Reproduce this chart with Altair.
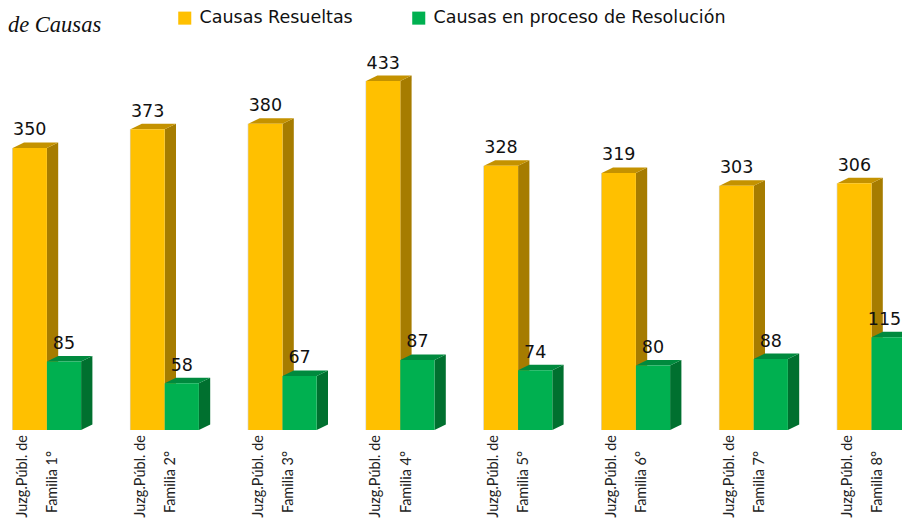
import altair as alt
import pandas as pd

groups = ["1°", "2°", "3°", "4°", "5°", "6°", "7°", "8°"]
resueltas = [350, 373, 380, 433, 328, 319, 303, 306]
en_proceso = [85, 58, 67, 87, 74, 80, 88, 115]
series_names = ["Causas Resueltas", "Causas en proceso de Resolución"]
front_colors = ["#FFC000", "#00B050"]
side_colors = ["#A67C00", "#00702F"]
top_colors = ["#C49200", "#008A3E"]
label_line1 = "Juzg.Públ. de"
label_line2 = "Familia "

W, H = 894, 512
PX_GROUP = 117.8
PX_Y = 0.806
BASE_Y = 422
X0 = 4.7
BAR = 34.2 / PX_GROUP
DX = 11.3 / PX_GROUP
DY = 5.5 / PX_Y
LABEL_MAX = (W - X0 - 17.5) / PX_GROUP

x_scale = alt.Scale(domain=[-X0 / PX_GROUP, (W - X0) / PX_GROUP], nice=False, zero=False)
y_scale = alt.Scale(domain=[-(H - BASE_Y) / PX_Y, BASE_Y / PX_Y], nice=False, zero=False)

front, side, top = [], [], []
for i, g in enumerate(groups):
    for s, vals in enumerate([resueltas, en_proceso]):
        v = vals[i]
        xl = i + s * BAR
        xr = xl + BAR
        key = f"{i}-{s}"
        front.append(dict(xl=xl, xr=xr, xc=min((xl + xr) / 2, LABEL_MAX), v=v, zero=0, name=series_names[s]))
        side.append(dict(key=key, x=xr, lo=0, hi=v, c=side_colors[s]))
        side.append(dict(key=key, x=xr + DX, lo=DY, hi=v + DY, c=side_colors[s]))
        top.append(dict(key=key, y=v, a=xl, b=xr, c=top_colors[s]))
        top.append(dict(key=key, y=v + DY, a=xl + DX, b=xr + DX, c=top_colors[s]))
cats = pd.DataFrame([dict(x1=i + 10.3 / PX_GROUP, x2=i + 40.5 / PX_GROUP,
                          l1=label_line1, l2=label_line2 + g) for i, g in enumerate(groups)])

X = lambda f: alt.X(f, type="quantitative", scale=x_scale, axis=None)
Y = lambda f: alt.Y(f, type="quantitative", scale=y_scale, axis=None)

side_layer = alt.Chart(pd.DataFrame(side)).mark_area(orient="vertical", interpolate="linear").encode(
    x=X("x"), y=Y("hi"), y2="lo:Q", detail="key:N", fill=alt.Fill("c:N", scale=None, legend=None))
top_layer = alt.Chart(pd.DataFrame(top)).mark_area(orient="horizontal", interpolate="linear").encode(
    y=Y("y"), x=X("a"), x2="b:Q", detail="key:N", fill=alt.Fill("c:N", scale=None, legend=None))
front_df = pd.DataFrame(front)
edge_layer = alt.Chart(front_df[front_df.name == series_names[0]]).mark_rule(color="#D2D2D2", strokeWidth=1.2).encode(
    x=X("xl"), y=Y("v"), y2="zero:Q")
front_layer = alt.Chart(front_df).mark_rect().encode(
    x=X("xl"), x2="xr:Q", y=Y("v"), y2="zero:Q",
    color=alt.Color("name:N", scale=alt.Scale(domain=series_names, range=front_colors),
        legend=alt.Legend(title=None, orient="none", legendX=168, legendY=1, direction="horizontal",
            symbolType="square", symbolSize=170, symbolStrokeWidth=0, symbolOpacity=1,
            labelFont="DejaVu Sans", labelFontSize=17.5, labelColor="#111111", labelLimit=400,
            columnPadding=57, labelOffset=6, columns=2)))
value_layer = alt.Chart(front_df).mark_text(font="DejaVu Sans", fontSize=17.5, color="#111111", baseline="alphabetic", dy=-12.5).encode(
    x=X("xc"), y=Y("v"), text="v:Q")
l1_layer = alt.Chart(cats).mark_text(font="Lato", fontSize=14.5, color="#222222", angle=270,
        align="right", baseline="middle").encode(
    x=X("x1"), y=alt.value(427), text="l1:N")
l2_layer = alt.Chart(cats).mark_text(font="Lato", fontSize=14.5, color="#222222", angle=270,
        align="right", baseline="middle").encode(
    x=X("x2"), y=alt.value(443), text="l2:N")
title_layer = alt.Chart(pd.DataFrame({"t": ["de Causas"]})).mark_text(
        font="Liberation Serif", fontSize=22.5, fontStyle="italic", color="#111111", align="left", baseline="alphabetic").encode(
    x=alt.value(0), y=alt.value(24), text="t:N")

chart = alt.layer(
    side_layer, top_layer, edge_layer, front_layer, value_layer, l1_layer, l2_layer, title_layer
).properties(width=W, height=H, autosize=alt.AutoSizeParams(type="none"), padding=0, background="white"
).configure_view(strokeWidth=0)

chart.save("out.html", embed_options={"renderer": "svg", "actions": False})
